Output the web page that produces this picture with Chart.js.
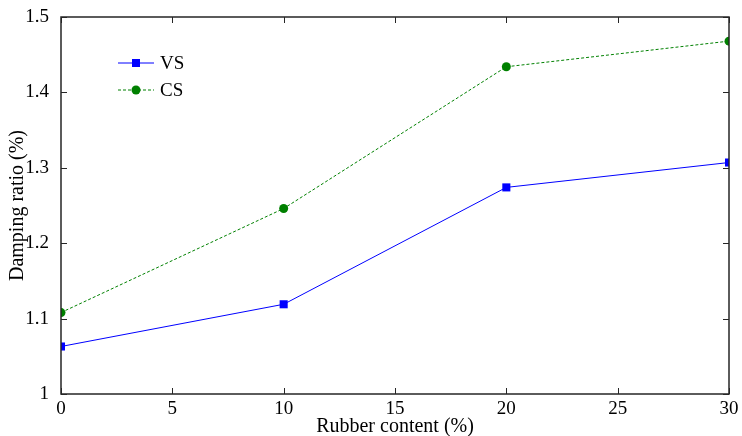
<!DOCTYPE html>
<html>
<head>
<meta charset="utf-8">
<script src="https://cdn.jsdelivr.net/npm/chart.js@4/dist/chart.umd.min.js"></script>
<style>
  html, body { margin: 0; padding: 0; background: #fff; }
  #wrap { width: 742px; height: 436px; }
</style>
</head>
<body>
<div id="wrap"><canvas id="damping"></canvas></div>
<script>
var rubberContent = [0, 10, 20, 30]
var vsRatio = [1.063, 1.119, 1.274, 1.307]
var csRatio = [1.108, 1.246, 1.434, 1.468]
var xTicks = [0, 5, 10, 15, 20, 25, 30]
var yTicks = [1, 1.1, 1.2, 1.3, 1.4, 1.5]

var serif = 'Liberation Serif, Times New Roman, serif'

var toPoints = function(xs, ys){
  return xs.map(function(x, i){ return {x: x, y: ys[i]} })
}

// matlab style box with inward ticks and a small legend at top left
var boxPlugin = {
  id: 'matlabBox',
  afterDraw: function(chart){
    var ctx = chart.ctx
    var a = chart.chartArea
    var xs = chart.scales.x
    var ys = chart.scales.y
    var len = 6
    ctx.save()
    ctx.strokeStyle = '#262626'
    ctx.lineWidth = 1.5
    ctx.strokeRect(a.left, a.top, a.right - a.left, a.bottom - a.top)
    ctx.lineWidth = 1
    ctx.beginPath()
    xTicks.forEach(function(t){
      var px = Math.round(xs.getPixelForValue(t)) + 0.5
      ctx.moveTo(px, a.bottom); ctx.lineTo(px, a.bottom - len)
      ctx.moveTo(px, a.top); ctx.lineTo(px, a.top + len)
    })
    yTicks.forEach(function(t){
      var py = Math.round(ys.getPixelForValue(t)) + 0.5
      ctx.moveTo(a.left, py); ctx.lineTo(a.left + len, py)
      ctx.moveTo(a.right, py); ctx.lineTo(a.right - len, py)
    })
    ctx.stroke()

    // legend
    var lx = a.left + 57
    var ly = a.top + 46
    chart.data.datasets.forEach(function(ds, i){
      var y = ly + i * 27
      ctx.strokeStyle = ds.borderColor
      ctx.lineWidth = 1
      ctx.setLineDash(ds.borderDash || [])
      ctx.beginPath()
      ctx.moveTo(lx, y); ctx.lineTo(lx + 36, y)
      ctx.stroke()
      ctx.setLineDash([])
      ctx.fillStyle = ds.pointBackgroundColor
      if(ds.pointStyle === 'rect'){
        ctx.fillRect(lx + 14, y - 4, 8, 8)
      } else {
        ctx.beginPath()
        ctx.arc(lx + 18, y, 4.5, 0, Math.PI * 2)
        ctx.fill()
      }
      ctx.fillStyle = '#000'
      ctx.font = '19px ' + serif
      ctx.textBaseline = 'middle'
      ctx.fillText(ds.label, lx + 42, y + 1)
    })
    ctx.restore()
  }
}

new Chart(document.getElementById('damping'), {
  type: 'line',
  data: {
    datasets: [
      {
        label: 'VS',
        data: toPoints(rubberContent, vsRatio),
        borderColor: '#0000ff',
        backgroundColor: '#0000ff',
        pointBackgroundColor: '#0000ff',
        pointBorderColor: '#0000ff',
        pointStyle: 'rect',
        pointRadius: 5.7,
        pointBorderWidth: 0,
        borderWidth: 1,
        tension: 0
      },
      {
        label: 'CS',
        data: toPoints(rubberContent, csRatio),
        borderColor: '#008000',
        backgroundColor: '#008000',
        pointBackgroundColor: '#008000',
        pointBorderColor: '#008000',
        pointStyle: 'circle',
        pointRadius: 4.5,
        pointBorderWidth: 0,
        borderWidth: 1,
        borderDash: [3, 2],
        tension: 0
      }
    ]
  },
  options: {
    responsive: true,
    maintainAspectRatio: false,
    animation: false,
    events: [],
    layout: {padding: {top: 17, right: 13, left: 0, bottom: 0}},
    plugins: {legend: {display: false}, tooltip: {enabled: false}},
    scales: {
      x: {
        type: 'linear',
        min: 0, max: 30,
        grid: {display: false},
        border: {display: false},
        afterBuildTicks: function(s){ s.ticks = xTicks.map(function(v){ return {value: v} }) },
        afterFit: function(s){ s.height = 42 },
        ticks: {color: '#000', font: {family: serif, size: 19}, padding: -4, maxRotation: 0},
        title: {display: true, text: 'Rubber content (%)', color: '#000', font: {family: serif, size: 20}, padding: {top: 0, bottom: -3}}
      },
      y: {
        min: 1, max: 1.5,
        grid: {display: false},
        border: {display: false},
        afterBuildTicks: function(s){ s.ticks = yTicks.map(function(v){ return {value: v} }) },
        afterFit: function(s){ s.width = 61 },
        ticks: {
          color: '#000', font: {family: serif, size: 19}, padding: 4,
          callback: function(v){ return String(+(+v).toFixed(1)) }
        },
        title: {display: true, text: 'Damping ratio (%)', color: '#000', font: {family: serif, size: 20}, padding: {top: 6, bottom: 0}}
      }
    }
  },
  plugins: [boxPlugin]
})
</script>
</body>
</html>
